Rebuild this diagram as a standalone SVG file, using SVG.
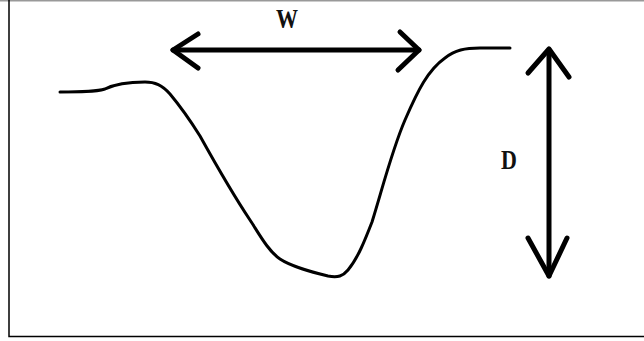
<svg xmlns="http://www.w3.org/2000/svg" width="644" height="341" viewBox="0 0 644 341">
<style>
.frame{fill:none;stroke:#000;stroke-width:1.5}
.arrow{fill:none;stroke:#000;stroke-width:5;stroke-linecap:round;stroke-linejoin:round}
.curve{fill:none;stroke:#000;stroke-width:3;stroke-linecap:round;stroke-linejoin:round}
.lbl{font-family:"Liberation Serif","Times New Roman",serif;font-weight:bold;font-size:22px;fill:#111;text-anchor:middle}
</style>
<rect width="644" height="341" fill="#fff"/>
<line x1="0" y1="0.75" x2="644" y2="0.75" stroke="#999" stroke-width="1.5"/>
<path class="frame" d="M9,0 V336.5 H644"/>
<g id="profile">
<path class="curve" d="M60,92 C80,92 95,92 105,89 C115,84 130,82 145,82 C155,82 162,85 170,94 C180,106 190,120 200,136 C215,163 234,196 250,220 C258,232 268,251 280,259 C292,267 312,272 328,276 C338,278 343,276 348,270 C358,258 365,240 372,222 C382,190 392,150 405,120 C418,90 428,70 445,58 C455,50 465,48 480,48 L510,48"/>
</g>
<g id="connectors">
<g id="width-arrow">
<path class="arrow" d="M173,50 H419"/>
<path class="arrow" d="M198,34 L173,50 L198,68"/>
<path class="arrow" d="M400,32 L419,50 L398,70"/>
</g>
<g id="depth-arrow">
<path class="arrow" d="M549,50 V276"/>
<path class="arrow" d="M528,73 L549,49 L569,77"/>
<path class="arrow" d="M528,238 L549,276 L567,238"/>
</g>
</g>
<g id="label-w">
<text class="lbl" transform="translate(287,28) scale(1,1.25)">W</text>
</g>
<g id="label-d">
<text class="lbl" transform="translate(509,169) scale(1,1.25)">D</text>
</g>
</svg>
